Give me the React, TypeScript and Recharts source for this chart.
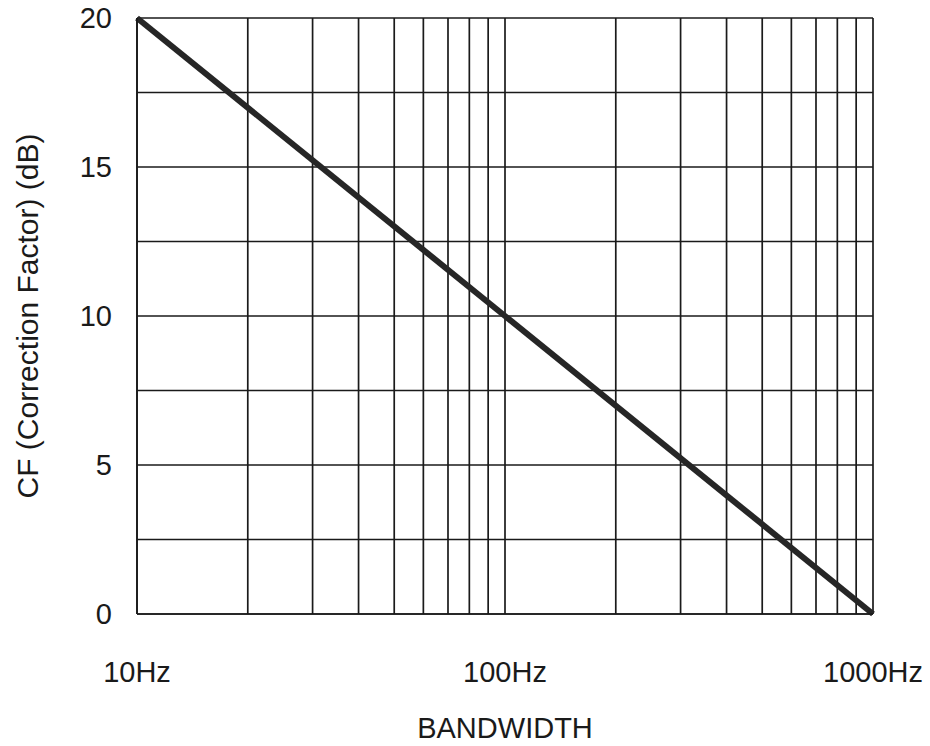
import { LineChart, Line, XAxis, YAxis, CartesianGrid } from 'recharts'

// bandwidth in Hz and correction factor in dB
const bandwidth = [10, 100, 1000]
const correction = [20, 10, 0]

// log grid lines: every integer step within each decade
const freqTicks = [10, 20, 30, 40, 50, 60, 70, 80, 90, 100, 200, 300, 400, 500, 600, 700, 800, 900, 1000]
const freqLabels = [10, 100, 1000]
const cfTicks = [0, 2.5, 5, 7.5, 10, 12.5, 15, 17.5, 20]
const cfLabels = [0, 5, 10, 15, 20]

const data = bandwidth.map((bw, i) => ({ bw, cf: correction[i] }))

const FONT = '"Liberation Sans", Arial, sans-serif'
const INK = '#1a1a1a'

export default function App() {
    return (
        <div style={{ position: 'absolute', left: 0, top: 0, background: '#fff', fontFamily: FONT }}>
            <LineChart width={930} height={746} data={data} margin={{ top: 18, right: 57, left: 0, bottom: 0 }}>
                <CartesianGrid stroke={INK} strokeWidth={1.7} />
                <XAxis
                    dataKey="bw"
                    type="number"
                    scale="log"
                    domain={[10, 1000]}
                    ticks={freqTicks}
                    interval={0}
                    height={132}
                    tickLine={false}
                    axisLine={{ stroke: INK, strokeWidth: 1.7 }}
                    tickSize={6}
                    tickMargin={41}
                    tick={{ fill: INK, fontSize: 29, fontFamily: FONT }}
                    tickFormatter={(v: number) => (freqLabels.includes(v) ? `${v}Hz` : '')}
                    label={{ value: 'BANDWIDTH', position: 'insideBottom', offset: 8, fill: INK, fontSize: 29, fontFamily: FONT }}
                />
                <YAxis
                    dataKey="cf"
                    type="number"
                    domain={[0, 20]}
                    ticks={cfTicks}
                    interval={0}
                    width={137}
                    tickLine={false}
                    axisLine={{ stroke: INK, strokeWidth: 1.7 }}
                    tickSize={6}
                    tickMargin={19}
                    tick={{ fill: INK, fontSize: 29, fontFamily: FONT }}
                    tickFormatter={(v: number) => (cfLabels.includes(v) ? String(v) : '')}
                    label={{
                        value: 'CF (Correction Factor) (dB)',
                        angle: -90,
                        position: 'insideLeft',
                        offset: 27,
                        fill: INK,
                        fontSize: 30,
                        fontFamily: FONT,
                        style: { textAnchor: 'middle' },
                    }}
                />
                <Line
                    type="linear"
                    dataKey="cf"
                    stroke="#262626"
                    strokeWidth={6}
                    dot={false}
                    isAnimationActive={false}
                />
            </LineChart>
        </div>
    )
}
